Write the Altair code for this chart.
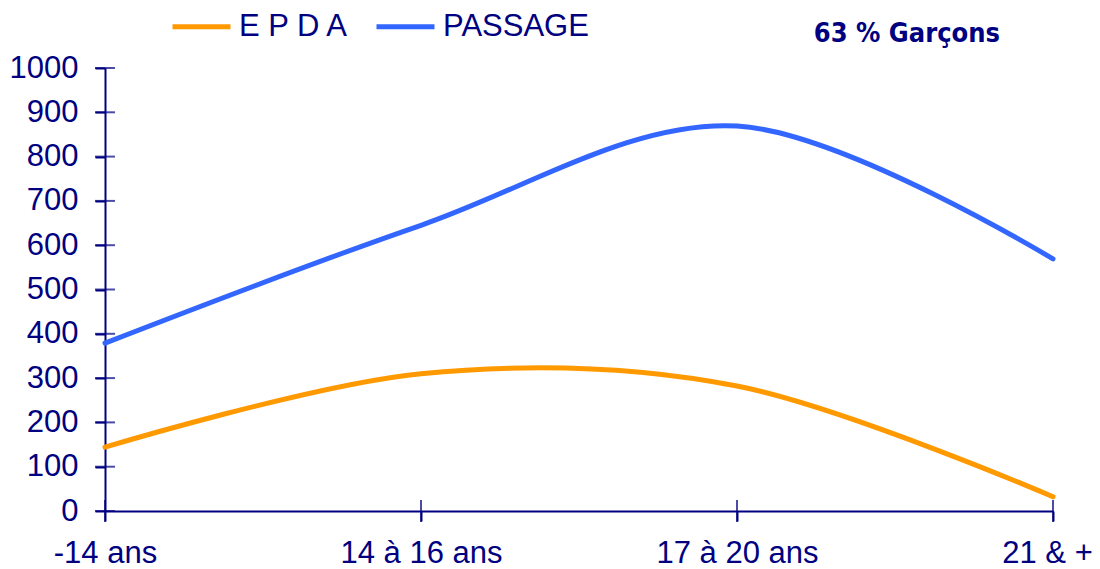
import altair as alt
import pandas as pd

categories = ["-14 ans", "14 à 16 ans", "17 à 20 ans", "21 & +"]
epda = [144, 310, 282, 32]
passage = [379, 645, 869, 569]
series_names = ["E P D A", "PASSAGE"]
series_colors = ["#FF9900", "#3366FF"]
y_ticks = [0, 100, 200, 300, 400, 500, 600, 700, 800, 900, 1000]

NAVY = "#000080"
FONT = "Liberation Sans"

rows = []
for c, v in zip(categories, epda):
    rows.append({"cat": c, "val": v, "serie": series_names[0]})
for c, v in zip(categories, passage):
    rows.append({"cat": c, "val": v, "serie": series_names[1]})
df = pd.DataFrame(rows)

xscale = alt.Scale(type="point", domain=categories, padding=0)
yscale = alt.Scale(domain=[0, 1000], nice=False, zero=True)

last_cat = categories[-1]

lines = alt.Chart(df).mark_line(
    interpolate="cardinal", tension=0, strokeWidth=5, strokeCap="round", strokeJoin="round"
).encode(
    x=alt.X("cat:O", scale=xscale, sort=categories,
            axis=alt.Axis(title="", labelAngle=0, labelPadding=17, tickSize=10,
                          labelOffset={"condition": {"test": f"datum.value === '{last_cat}'", "value": -6},
                                       "value": 0})),
    y=alt.Y("val:Q", scale=yscale,
            axis=alt.Axis(title="", values=y_ticks, format="d", labelPadding=17, tickSize=10)),
    color=alt.Color("serie:N", title=None,
                    scale=alt.Scale(domain=series_names, range=series_colors),
                    legend=alt.Legend(orient="none", legendX=65, legendY=-73,
                                      direction="horizontal", symbolType="stroke",
                                      symbolSize=3364, symbolStrokeWidth=5,
                                      labelFontSize=31, labelColor=NAVY, labelFont=FONT,
                                      labelOffset=6, columnPadding=16)),
)

ytick_df = pd.DataFrame({"v": y_ticks})
yticks = alt.Chart(ytick_df).mark_tick(orient="horizontal", size=20, thickness=2, color=NAVY).encode(
    y=alt.Y("v:Q", scale=yscale),
    x=alt.value(0),
)

xtick_df = pd.DataFrame({"cat": categories})
xticks = alt.Chart(xtick_df).mark_tick(orient="vertical", size=22, thickness=2, color=NAVY).encode(
    x=alt.X("cat:O", scale=xscale, sort=categories),
    y=alt.datum(0),
)

chart = alt.layer(lines, yticks, xticks).properties(
    width=948, height=443,
    autosize=alt.AutoSizeParams(type="none"),
    padding={"left": 97, "top": 60, "right": 39, "bottom": 58},
    title=alt.TitleParams("63 % Garçons", anchor="end", frame="group", orient="top",
                          font="DejaVu Sans Condensed", fontWeight="bold",
                          fontSize=27, color=NAVY, dx=-53, baseline="alphabetic", offset=0, dy=74),
).configure_view(stroke=None).configure_axis(
    grid=False, domainColor=NAVY, domainWidth=2, tickColor=NAVY, tickWidth=2,
    labelFont=FONT, labelFontSize=31, labelColor=NAVY,
)

chart.save("out.html", embed_options={"renderer": "svg", "actions": False})
